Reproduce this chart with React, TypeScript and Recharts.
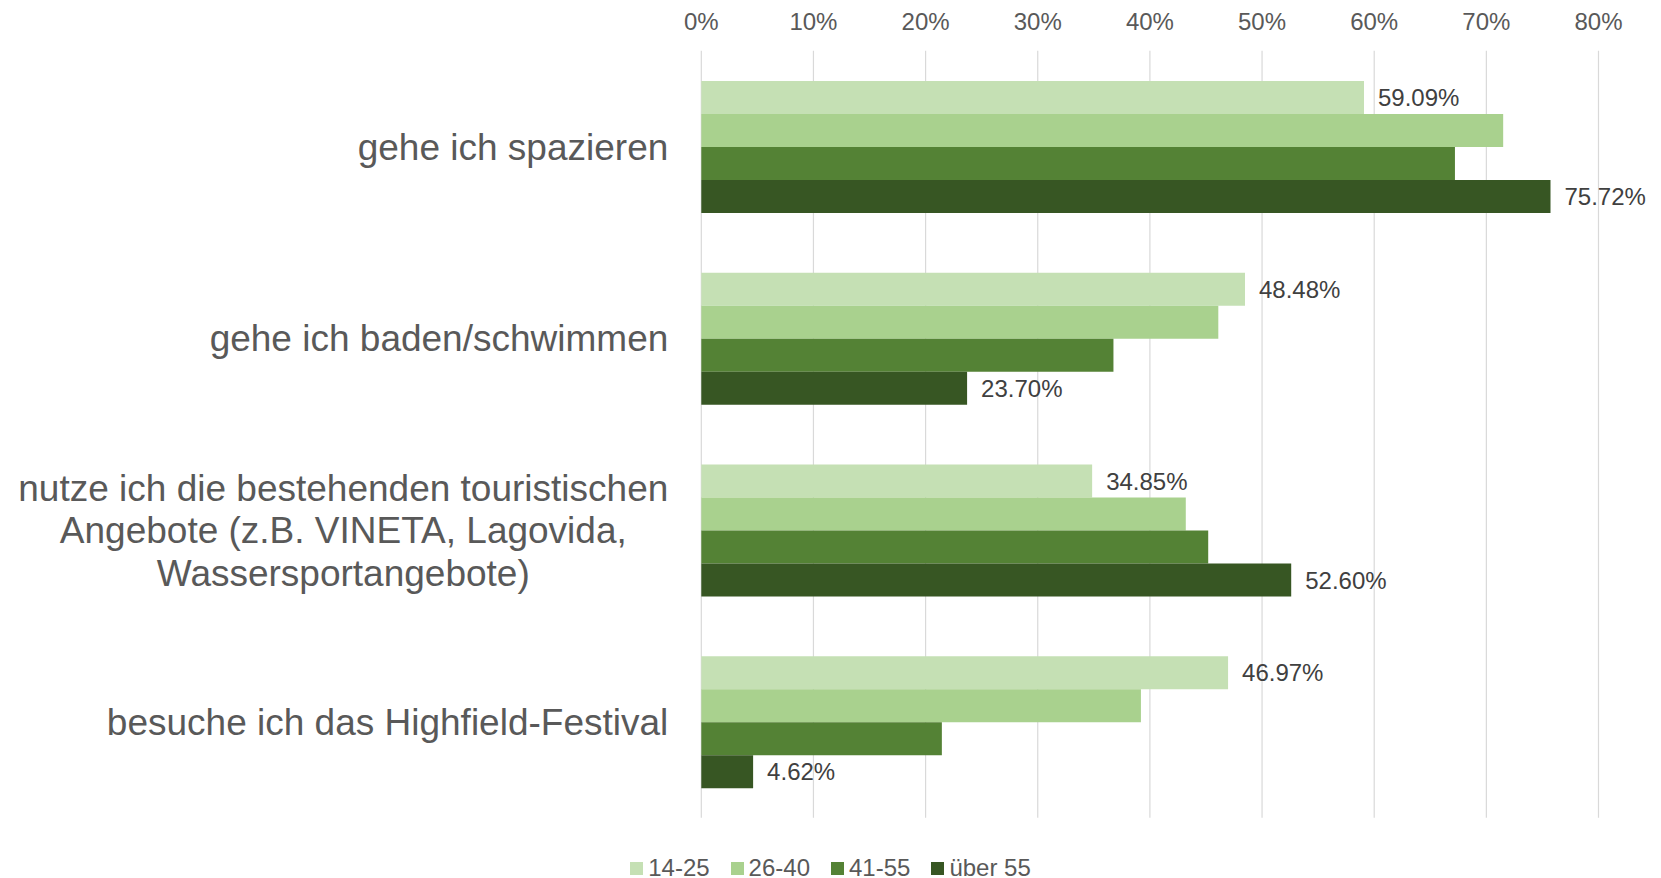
import React from 'react';
import { BarChart, Bar, XAxis, YAxis, CartesianGrid, Legend, LabelList } from 'recharts';

document.body.style.margin = '0';
document.body.style.overflow = 'hidden';

const FONT = '"Liberation Sans", Arial, sans-serif';

const categories = [
  'gehe ich spazieren',
  'gehe ich baden/schwimmen',
  'nutze ich die bestehenden touristischen\nAngebote (z.B. VINETA, Lagovida,\nWassersportangebote)',
  'besuche ich das Highfield-Festival',
];

const seriesNames = ['14-25', '26-40', '41-55', 'über 55'];
const seriesColors = ['#c5e0b4', '#a9d18e', '#548235', '#375623'];

const s14to25 = [59.09, 48.48, 34.85, 46.97];
const s26to40 = [71.5, 46.1, 43.2, 39.2];
const s41to55 = [67.2, 36.75, 45.2, 21.45];
const sOver55 = [75.72, 23.7, 52.6, 4.62];

const xTicks = [0, 10, 20, 30, 40, 50, 60, 70, 80];

const data = categories.map((name, i) => ({
  name,
  a: s14to25[i],
  b: s26to40[i],
  c: s41to55[i],
  d: sOver55[i],
}));

let canvasCtx: CanvasRenderingContext2D | null = null;
const measure = (text: string, size: number) => {
  if (!canvasCtx) {
    const c = document.createElement('canvas');
    canvasCtx = c.getContext('2d');
  }
  if (!canvasCtx) return text.length * size * 0.5;
  canvasCtx.font = `${size}px "Liberation Sans"`;
  return canvasCtx.measureText(text).width;
};

const CategoryTick = (props: any) => {
  const { x, y, payload } = props;
  const size = 37;
  const lh = 42.4;
  const lines = String(payload.value).split('\n');
  const maxW = Math.max(...lines.map((l) => measure(l, size)));
  const cx = x - maxW / 2;
  const startDy = -((lines.length - 1) / 2) * lh + size * 0.35;
  return (
    <text x={cx} y={y} textAnchor="middle" fill="#595959" fontSize={size} fontFamily={FONT}>
      {lines.map((l, i) => (
        <tspan key={i} x={cx} dy={i === 0 ? startDy : lh}>
          {l}
        </tspan>
      ))}
    </text>
  );
};

const PercentTick = (props: any) => {
  const { x, payload } = props;
  return (
    <text x={x} y={21.2} dy={8.4} textAnchor="middle" fill="#595959" fontSize={24} fontFamily={FONT}>
      {`${payload.value}%`}
    </text>
  );
};

const renderLegend = () => (
  <div
    style={{
      display: 'flex',
      justifyContent: 'center',
      alignItems: 'center',
      fontFamily: FONT,
      fontSize: 24,
      color: '#595959',
      height: 30,
    }}
  >
    {seriesNames.map((n, i) => (
      <div key={n} style={{ display: 'flex', alignItems: 'center', marginRight: i < 3 ? 21 : 0 }}>
        <span
          style={{
            width: 13,
            height: 13,
            background: seriesColors[i],
            marginRight: 5,
            display: 'inline-block',
          }}
        />
        <span>{n}</span>
      </div>
    ))}
  </div>
);

const fmt = (v: any) => `${Number(v).toFixed(2)}%`;

export default function App() {
  const keys = ['a', 'b', 'c', 'd'];
  return (
    <BarChart
      width={1661}
      height={878}
      data={data}
      layout="vertical"
      margin={{ top: 0, right: 62.5, bottom: 30.2, left: 0 }}
      barCategoryGap="15.75%"
      barGap={0}
    >
      <CartesianGrid horizontal={false} stroke="#d9d9d9" strokeWidth={1.2} />
      <XAxis
        type="number"
        orientation="top"
        domain={[0, 80]}
        ticks={xTicks}
        height={50.8}
        axisLine={false}
        tickLine={false}
        tick={<PercentTick />}
        interval={0}
      />
      <YAxis
        type="category"
        dataKey="name"
        width={701.3}
        axisLine={false}
        tickLine={false}
        tickSize={0}
        tickMargin={33}
        tick={<CategoryTick />}
        interval={0}
      />
      <Legend
        verticalAlign="bottom"
        content={renderLegend}
        wrapperStyle={{ top: 853, bottom: 'auto', left: 0, width: 1661, height: 30 }}
      />
      {keys.map((k, i) => (
        <Bar key={k} dataKey={k} name={seriesNames[i]} fill={seriesColors[i]} isAnimationActive={false}>
          {(i === 0 || i === 3) && (
            <LabelList
              dataKey={k}
              position="right"
              offset={14}
              formatter={fmt}
              fill="#404040"
              fontSize={24}
              fontFamily={FONT}
            />
          )}
        </Bar>
      ))}
    </BarChart>
  );
}
